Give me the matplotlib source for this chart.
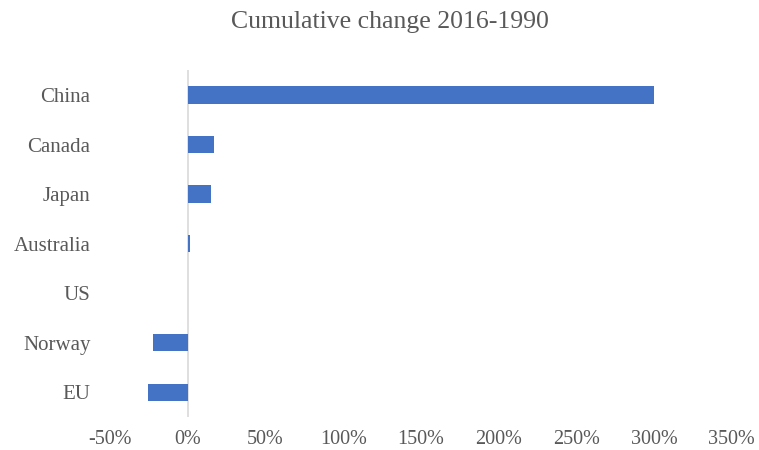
import numpy as np
from matplotlib import pyplot as plt
from matplotlib.ticker import FuncFormatter

# Cumulative change in emissions, 2016 vs 1990 (percent)
countries = ['China', 'Canada', 'Japan', 'Australia', 'US', 'Norway', 'EU']
change = [300, 17, 15, 1.5, 0, -22.5, -25.5]
ticks = [-50, 0, 50, 100, 150, 200, 250, 300, 350]

plt.rcParams['font.family'] = ['Liberation Serif', 'DejaVu Serif']
grey = '#595959'

fig = plt.figure(figsize=(7.59, 4.5), dpi=100)
ax = fig.add_axes([0.145, 0.073, 0.819, 0.771])

y = np.arange(len(countries))
ax.barh(y, change, height=0.35, color='#4472C4', zorder=2)
ax.axvline(0, color='#d9d9d9', linewidth=1.2, zorder=1)

ax.set_xlim(-50, 350)
ax.set_ylim(len(countries) - 0.5, -0.5)
ax.set_xticks(ticks)
ax.xaxis.set_major_formatter(FuncFormatter(lambda v, p: '%d%%' % v))
ax.set_yticks(y)
ax.set_yticklabels(countries)

for s in ax.spines.values():
    s.set_visible(False)
ax.tick_params(axis='x', length=0, pad=9, labelsize=14.5, labelcolor=grey)
ax.tick_params(axis='y', length=0, pad=14, labelsize=15, labelcolor=grey)

fig.suptitle('Cumulative change 2016-1990', x=0.514, y=0.975, fontsize=18.5, color=grey)

fig.savefig('out.png', dpi=100, facecolor='white')
